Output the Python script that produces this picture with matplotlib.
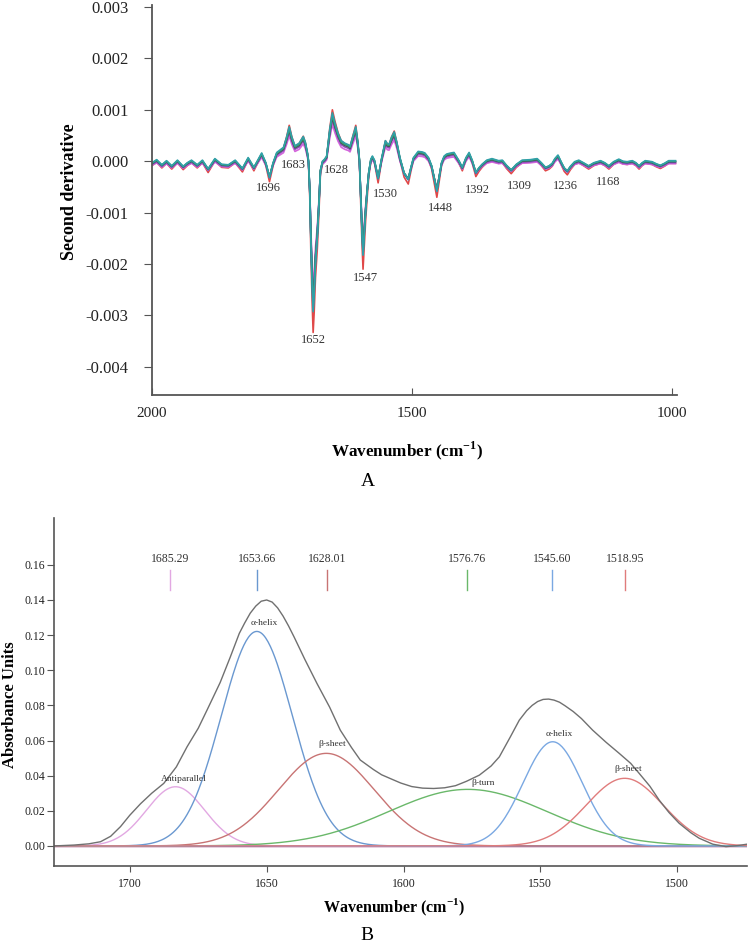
import numpy as np
import matplotlib
matplotlib.use('Agg')
import matplotlib.pyplot as plt

plt.rcParams['font.family'] = ['Liberation Serif', 'DejaVu Serif']
plt.rcParams['mathtext.fontset'] = 'custom'
plt.rcParams['mathtext.rm'] = 'Liberation Serif'
plt.rcParams['mathtext.bf'] = 'Liberation Serif:bold'
plt.rcParams['axes.unicode_minus'] = False

# ---- panel A: second derivative spectrum (values in units of 1e-3) ----
spec_wn = [2000, 1991, 1981, 1972, 1962, 1951, 1940, 1932, 1924, 1913, 1903, 1892,
           1879, 1866, 1853, 1840, 1826, 1815, 1804, 1789, 1781, 1774, 1767, 1760,
           1747, 1741, 1736, 1731, 1725, 1717, 1709, 1705, 1701, 1699, 1696.5, 1694.5,
           1692, 1690, 1688, 1685.5, 1682, 1679, 1676, 1672, 1668, 1664, 1658, 1653,
           1648, 1642, 1636, 1629, 1622, 1619, 1614, 1608, 1604, 1601, 1598.5, 1596,
           1594, 1592, 1589, 1586, 1583, 1579, 1576, 1572, 1569, 1565, 1561, 1558,
           1551, 1547, 1544, 1539, 1534, 1529, 1523, 1515, 1507, 1502, 1497, 1488,
           1480, 1475, 1468, 1462, 1456, 1452, 1448, 1443, 1438, 1433, 1425, 1419,
           1410, 1403, 1396, 1390, 1384, 1377, 1371, 1365, 1356, 1346, 1333, 1326,
           1318, 1309, 1299, 1288, 1272, 1259, 1251, 1243, 1236, 1230, 1225, 1219,
           1212, 1207, 1201, 1195, 1187, 1179, 1170, 1160, 1150, 1137, 1129, 1121,
           1112, 1102, 1094, 1086, 1076, 1069, 1063, 1057, 1051, 1038, 1030, 1022,
           1014, 1006, 993]
spec_val = [-0.05, 0.01, -0.09, -0.01, -0.11, 0.0, -0.12, -0.05, 0.0, -0.09, 0.0, -0.17,
            0.03, -0.08, -0.09, 0.0, -0.16, 0.05, -0.14, 0.14, -0.05, -0.33, -0.05, 0.15,
            0.25, 0.45, 0.65, 0.45, 0.28, 0.33, 0.46, 0.35, 0.15, 0.0, -0.6, -1.5,
            -2.4, -2.95, -2.6, -2.0, -1.5, -0.9, -0.2, -0.02, 0.02, 0.08, 0.6, 0.92,
            0.72, 0.52, 0.38, 0.33, 0.30, 0.27, 0.45, 0.65, 0.35, 0.02, -0.7, -1.4,
            -1.85, -1.5, -1.0, -0.6, -0.24, 0.02, 0.08, 0.0, -0.15, -0.35, -0.12, 0.05,
            0.38, 0.32, 0.31, 0.45, 0.55, 0.35, 0.05, -0.25, -0.37, -0.15, 0.05, 0.17,
            0.16, 0.14, 0.05, -0.11, -0.4, -0.6, -0.35, -0.05, 0.08, 0.12, 0.14, 0.15,
            0.0, -0.14, 0.05, 0.15, 0.0, -0.24, -0.15, -0.08, 0.0, 0.03, -0.01, 0.0,
            -0.1, -0.19, -0.08, 0.0, 0.01, 0.03, -0.05, -0.14, -0.11, -0.06, 0.03, 0.10,
            -0.05, -0.15, -0.21, -0.12, -0.03, 0.0, -0.05, -0.11, -0.05, -0.01, -0.05, -0.11,
            -0.03, 0.02, -0.02, -0.03, -0.01, -0.05, -0.11, -0.05, -0.01, -0.03, -0.07, -0.10,
            -0.06, -0.01, -0.01]

# replicate spectra: colour, amplitude relative to the mean trace, offset (1e-3)
rep_colors = ['#e04848', '#d466dc', '#9050c0', '#4a80c8', '#404850', '#3a9a6a', '#30a0a8']
rep_scale = [1.12, 0.82, 0.90, 0.98, 0.93, 0.95, 1.00]
rep_offset = [-0.03, -0.04, -0.02, 0.0, 0.0, 0.01, 0.02]

peak_labels_a = ['1696', '1683', '1628', '1652', '1547', '1530', '1448',
                 '1392', '1309', '1236', '1168']
peak_label_x = [1776, 1728, 1645, 1690, 1590, 1550, 1446, 1374, 1293, 1204, 1122]
peak_label_y = [-0.53, -0.08, -0.18, -3.48, -2.28, -0.63, -0.92, -0.56, -0.48, -0.49, -0.40]

# ---- panel B: curve fitted amide I / II region ----
env_wn = [1727.7, 1720.4, 1715, 1710.7, 1707, 1703.4, 1700, 1696.1, 1692, 1687.6, 1683,
          1679.1, 1675, 1671.8, 1667, 1663.3, 1660, 1658, 1656, 1654, 1652, 1650, 1648,
          1646, 1644, 1642, 1640, 1636, 1631.6, 1627, 1623.1, 1619, 1615.8, 1611, 1608,
          1604, 1601, 1597, 1593, 1589, 1585, 1581, 1577, 1572.3, 1568, 1565, 1561,
          1557.7, 1555, 1553, 1551, 1549, 1547, 1545, 1543, 1541, 1538, 1535, 1530.9,
          1526, 1521.2, 1517, 1513.9, 1510, 1506.6, 1503, 1499.3, 1495, 1492, 1487,
          1482.2, 1478, 1474.5]
env_val = [0.0, 0.0005, 0.0012, 0.0024, 0.0055, 0.011, 0.0175, 0.024, 0.030, 0.0356, 0.045,
           0.0564, 0.067, 0.0773, 0.093, 0.1075, 0.121, 0.127, 0.1325, 0.1365, 0.1393, 0.1400, 0.1388,
           0.1355, 0.1308, 0.1252, 0.119, 0.106, 0.0924, 0.079, 0.0659, 0.056, 0.0489, 0.0435, 0.0405,
           0.0378, 0.0358, 0.0338, 0.0329, 0.0327, 0.0331, 0.0343, 0.0368, 0.0403, 0.0455, 0.0507, 0.062,
           0.0716, 0.0770, 0.0800, 0.0822, 0.0834, 0.0836, 0.0830, 0.0818, 0.0798, 0.0765, 0.0725, 0.0659,
           0.059, 0.0527, 0.047, 0.0413, 0.034, 0.0261, 0.019, 0.0129, 0.0075, 0.0044, 0.001,
           -0.0004, 0.0002, 0.001]

band_pos = ['1685.29', '1653.66', '1628.01', '1576.76', '1545.60', '1518.95']
band_names = ['Antiparallel', 'α-helix', 'β-sheet', 'β-turn', 'α-helix', 'β-sheet']
band_center = [1683.3, 1653.6, 1628.2, 1576.5, 1545.5, 1519.2]
band_height = [0.0337, 0.1221, 0.0527, 0.0322, 0.0593, 0.0385]
band_sigma = [10.6, 13.0, 17.5, 29.0, 10.8, 14.0]
band_colors = ['#e2a8e2', '#6a98d0', '#c87474', '#6ab86a', '#7aa8e2', '#e07c7c']

fig = plt.figure(figsize=(7.48, 9.46), dpi=100)

# ---------------- A ----------------
ax1 = fig.add_axes([0.2032, 0.5825, 0.7019, 0.4122])
wn = np.array(spec_wn)
base = np.array(spec_val)
for c, s, o in zip(rep_colors, rep_scale, rep_offset):
    ax1.plot(wn, (base * s + o) * 1e-3, color=c, lw=1.2, solid_joinstyle='round')
for t, x, y in zip(peak_labels_a, peak_label_x, peak_label_y):
    ax1.text(x, y * 1e-3, t, fontsize=9, ha='center', va='center', color='#333333')

ax1.set_xlim(2000, 990)
ax1.set_ylim(-0.00455, 0.00304)
ax1.set_xticks([2000, 1500, 1000])
ax1.set_yticks(np.arange(-0.004, 0.0031, 0.001))
ax1.set_yticklabels(['%.3f' % v for v in np.arange(-0.004, 0.0031, 0.001)])
ax1.tick_params(axis='x', direction='in', length=5, pad=9, labelsize=11, colors='#555555', labelcolor='#222222')
ax1.tick_params(axis='y', direction='out', length=6, pad=11, labelsize=12, colors='#555555', labelcolor='#222222')
for sp in ['top', 'right']:
    ax1.spines[sp].set_visible(False)
for sp in ['left', 'bottom']:
    ax1.spines[sp].set_color('#555555')
    ax1.spines[sp].set_linewidth(1.3)
ax1.set_ylabel('Second derivative', fontsize=13, fontweight='bold')
ax1.yaxis.set_label_coords(-0.141, 0.52)
ax1.set_xlabel(r'Wavenumber (cm$^{\mathbf{-1}}$)', fontsize=12.3, fontweight='bold')
ax1.xaxis.set_label_coords(0.486, -0.113)
fig.text(0.492, 0.4915, 'A', fontsize=14, ha='center', va='center')

# ---------------- B ----------------
ax2 = fig.add_axes([0.0722, 0.0846, 0.9265, 0.3679])
xs = np.linspace(1727.7, 1474.5, 600)
ax2.plot(xs, np.zeros_like(xs), color='#a03070', lw=1.0)
ax2.plot(xs, np.zeros_like(xs), color='#7040a0', lw=0.8, alpha=0.7)
for c, h, s, col in zip(band_center, band_height, band_sigma, band_colors):
    ax2.plot(xs, h * np.exp(-(xs - c) ** 2 / (2 * s ** 2)), color=col, lw=1.0)
ax2.plot(env_wn, env_val, color='#707070', lw=1.0)

for p, col in zip(band_pos, band_colors):
    ax2.plot([float(p), float(p)], [0.1455, 0.157], color=col, lw=1.0)
    ax2.text(float(p), 0.1636, p, fontsize=8.5, ha='center', va='center', color='#333333')

name_x = [1680.3, 1651, 1626, 1571, 1543, 1518]
name_y = [0.038, 0.127, 0.058, 0.0356, 0.064, 0.0436]
for n, x, y in zip(band_names, name_x, name_y):
    ax2.text(x, y, n, fontsize=6.8, ha='center', va='center', color='#333333')

ax2.set_xlim(1727.7, 1474.5)
ax2.set_ylim(-0.0114, 0.1867)
ax2.set_xticks([1700, 1650, 1600, 1550, 1500])
ax2.set_yticks(np.arange(0, 0.161, 0.02))
ax2.set_yticklabels(['%.2f' % v for v in np.arange(0, 0.161, 0.02)])
ax2.tick_params(axis='x', direction='out', length=4, pad=5, labelsize=8.5, colors='#555555', labelcolor='#222222')
ax2.tick_params(axis='y', direction='out', length=5, pad=1.5, labelsize=8.5, colors='#555555', labelcolor='#222222')
for sp in ['top', 'right']:
    ax2.spines[sp].set_visible(False)
for sp in ['left', 'bottom']:
    ax2.spines[sp].set_color('#555555')
    ax2.spines[sp].set_linewidth(1.2)
ax2.set_ylabel('Absorbance Units', fontsize=12, fontweight='bold')
ax2.yaxis.set_label_coords(-0.052, 0.463)
ax2.set_xlabel(r'Wavenumber (cm$^{\mathbf{-1}}$)', fontsize=11.5, fontweight='bold')
ax2.xaxis.set_label_coords(0.491, -0.089)
fig.text(0.4906, 0.0106, 'B', fontsize=14, ha='center', va='center')

fig.savefig('out.png', dpi=100)
